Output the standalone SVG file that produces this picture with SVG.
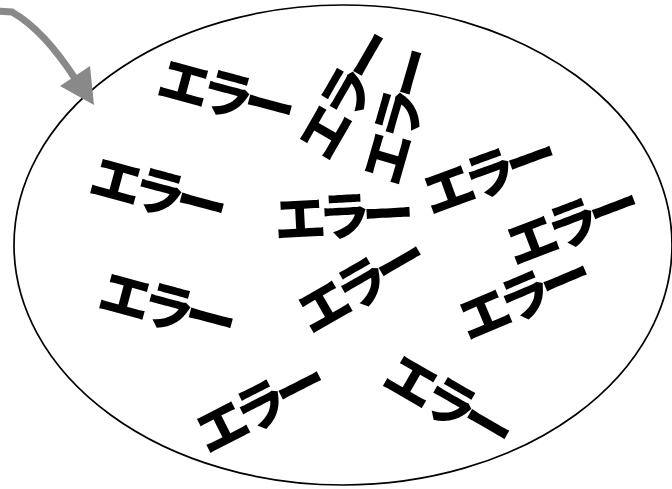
<svg xmlns="http://www.w3.org/2000/svg" width="672" height="489" viewBox="0 0 672 489">
<style>
.t{font-family:"Noto Sans CJK JP","Noto Sans CJK SC",sans-serif;font-weight:900;font-size:52px;fill:#000;text-anchor:middle;dominant-baseline:central;letter-spacing:-8px}
</style>
<rect width="672" height="489" fill="#fff"/>
<g id="set">
<ellipse cx="343" cy="245" rx="329" ry="240" fill="none" stroke="#000" stroke-width="1.7"/>
</g>
<g id="connectors">
<path d="M -2,11 L 12,12 C 35,25 58,52 76,80" fill="none" stroke="#898989" stroke-width="7"/>
<polygon points="60,86 90,66 94,105" fill="#898989"/>
</g>
<g id="e1"><text class="t" transform="translate(224,90) rotate(15)">エラー</text></g>
<g id="e2"><text class="t" transform="translate(342,95) rotate(-60)">エラー</text></g>
<g id="e3"><text class="t" transform="translate(395,118) rotate(-74)">エラー</text></g>
<g id="e4"><text class="t" transform="translate(156,188) rotate(15)">エラー</text></g>
<g id="e5"><text class="t" transform="translate(340,213) rotate(-3)">エラー</text></g>
<g id="e6"><text class="t" transform="translate(357,283) rotate(-30)">エラー</text></g>
<g id="e7"><text class="t" transform="translate(165,303) rotate(15)">エラー</text></g>
<g id="e8"><text class="t" transform="translate(485,172) rotate(-20)">エラー</text></g>
<g id="e9"><text class="t" transform="translate(568,222) rotate(-21)">エラー</text></g>
<g id="e10"><text class="t" transform="translate(520,295) rotate(-23)">エラー</text></g>
<g id="e11"><text class="t" transform="translate(256,405) rotate(-27)">エラー</text></g>
<g id="e12"><text class="t" transform="translate(448,398) rotate(30)">エラー</text></g>
</svg>
